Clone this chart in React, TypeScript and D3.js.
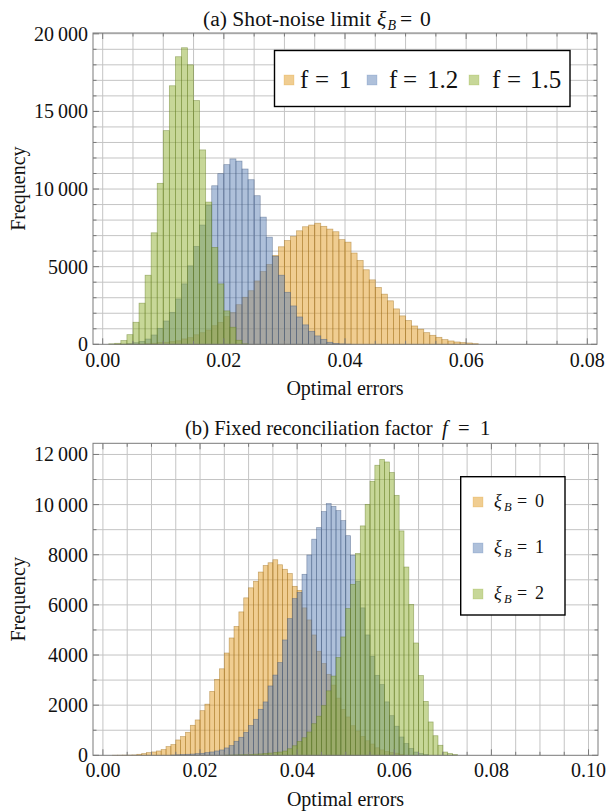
import React from 'react';
import * as d3 from 'd3';

const BIN = 0.001;

// Panel (a): shot-noise limit, xi_B = 0 ; bins of width 0.001
const aF1Start = 0.002;
const aF1Counts = [3, 5, 8, 10, 15, 40, 66, 106, 133, 173, 226, 346, 425, 612, 745, 918, 1197, 1410, 1780, 2040, 2550, 3030, 3450, 4080, 4680, 5140, 5720, 6280, 6680, 6940, 7310, 7570, 7680, 7800, 7600, 7420, 7250, 6740, 6580, 5880, 5400, 4800, 4150, 3660, 3230, 2800, 2280, 1830, 1530, 1180, 970, 750, 580, 450, 300, 215, 150, 110, 85, 40];
const aF12Start = 0.003;
const aF12Counts = [10, 40, 100, 190, 340, 600, 1030, 1500, 2060, 2920, 3890, 5050, 6300, 7680, 8950, 10210, 10990, 11570, 11940, 11800, 11290, 10600, 9570, 8190, 6900, 5660, 4450, 3350, 2470, 1760, 1250, 840, 540, 320, 130, 60, 25, 10];
const aF15Start = 0.001;
const aF15Counts = [30, 65, 240, 620, 1420, 2650, 4450, 7180, 10370, 13760, 16650, 18520, 19100, 18000, 15700, 12520, 9160, 6240, 3890, 2150, 1100, 260, 30];

// Panel (b): fixed reconciliation factor f = 1
const bXi0Start = 0.002;
const bXi0Counts = [3, 5, 8, 10, 15, 40, 66, 106, 133, 173, 226, 346, 425, 612, 745, 918, 1197, 1410, 1780, 2040, 2550, 3030, 3450, 4080, 4680, 5140, 5720, 6280, 6680, 6940, 7310, 7570, 7680, 7800, 7600, 7420, 7250, 6740, 6580, 5880, 5400, 4800, 4150, 3660, 3230, 2800, 2280, 1830, 1530, 1180, 970, 750, 580, 450, 300, 215, 150, 110, 85, 40];
const bXi1Start = 0.014;
const bXi1Counts = [10, 20, 30, 40, 50, 65, 80, 106, 133, 173, 213, 293, 386, 559, 718, 918, 1184, 1436, 1835, 2128, 2766, 3200, 3700, 4600, 5450, 6250, 6500, 7220, 7990, 8620, 9080, 9720, 10040, 9930, 9760, 9360, 8760, 7980, 6940, 5880, 4800, 3950, 3190, 2820, 2130, 1580, 1160, 730, 470, 270, 130, 70, 30];
const bXi2Start = 0.025;
const bXi2Counts = [5, 10, 15, 20, 25, 35, 45, 55, 70, 90, 110, 130, 170, 260, 380, 550, 700, 930, 1260, 1560, 1980, 2570, 3160, 3900, 4720, 5850, 6820, 8050, 9150, 10010, 10930, 11570, 11800, 11700, 11280, 10370, 8950, 7510, 6020, 4480, 3180, 2150, 1330, 780, 400, 130, 70, 30];

const xTicksA = [0, 0.02, 0.04, 0.06, 0.08];
const yTicksA = [0, 5000, 10000, 15000, 20000];
const xTicksB = [0, 0.02, 0.04, 0.06, 0.08, 0.1];
const yTicksB = [0, 2000, 4000, 6000, 8000, 10000, 12000];

const legendAValues = ['1', '1.2', '1.5'];
const legendBValues = ['0', '1', '2'];

const COLORS = ['#E19C24', '#5E81B5', '#8FB032'];
const FONT = '"Liberation Serif", "DejaVu Serif", serif';

type Series = { start: number; counts: number[]; color: string };

function fmtY(v: number) {
  const s = String(v);
  return v >= 10000 ? s.slice(0, -3) + '\u2009' + s.slice(-3) : s;
}

function Panel(props: {
  left: number; right: number; top: number; bottom: number;
  xDomain: [number, number]; yDomain: [number, number];
  series: Series[]; xTicks: number[]; yTicks: number[];
  xGridMax: number; yGridMax: number;
  xLabelY: number; axisLabelY: number;
}) {
  const { left, right, top, bottom, xDomain, yDomain, series, xTicks, yTicks } = props;
  const x = d3.scaleLinear().domain(xDomain).range([left, right]);
  const y = d3.scaleLinear().domain(yDomain).range([bottom, top]);
  const xGrid = d3.range(0, Math.round(props.xGridMax / 0.005) + 1).map((i) => i * 0.005);
  const yGrid = d3.range(1, Math.round(props.yGridMax / 1000) + 1).map((i) => i * 1000);
  const isMajorX = (v: number) => xTicks.some((t) => Math.abs(t - v) < 1e-9);
  const isMajorY = (v: number) => yTicks.some((t) => Math.abs(t - v) < 1e-9);
  const frame = '#7a7a7a';
  return (
    <g>
      {xGrid.map((v, i) => (
        <line key={'gx' + i} x1={x(v)} x2={x(v)} y1={top} y2={bottom} stroke="#c4c4c4" strokeWidth={1} />
      ))}
      {yGrid.map((v, i) => (
        <line key={'gy' + i} x1={left} x2={right} y1={y(v)} y2={y(v)} stroke="#c4c4c4" strokeWidth={1} />
      ))}
      {series.map((s, si) => {
        const edge = d3.color(s.color)!.darker(1).formatHex();
        return (
          <g key={'s' + si}>
            {s.counts.map((c, i) => {
              const x0 = s.start + i * BIN;
              const px0 = x(x0);
              const px1 = x(x0 + BIN);
              return (
                <rect
                  key={i}
                  x={px0}
                  y={y(c)}
                  width={px1 - px0}
                  height={y(0) - y(c)}
                  fill={s.color}
                  fillOpacity={0.5}
                  stroke={edge}
                  strokeOpacity={0.55}
                  strokeWidth={0.7}
                />
              );
            })}
          </g>
        );
      })}
      <rect x={left} y={top} width={right - left} height={bottom - top} fill="none" stroke={frame} strokeWidth={1} />
      {xGrid.map((v, i) => {
        const L = isMajorX(v) ? 6 : 3.5;
        return (
          <g key={'tx' + i}>
            <line x1={x(v)} x2={x(v)} y1={bottom} y2={bottom - L} stroke={frame} strokeWidth={1} />
            <line x1={x(v)} x2={x(v)} y1={top} y2={top + L} stroke={frame} strokeWidth={1} />
          </g>
        );
      })}
      {[0, ...yGrid].map((v, i) => {
        const L = isMajorY(v) ? 6 : 3.5;
        return (
          <g key={'ty' + i}>
            <line x1={left} x2={left + L} y1={y(v)} y2={y(v)} stroke={frame} strokeWidth={1} />
            <line x1={right} x2={right - L} y1={y(v)} y2={y(v)} stroke={frame} strokeWidth={1} />
          </g>
        );
      })}
      {xTicks.map((v, i) => (
        <text key={'lx' + i} x={x(v)} y={props.xLabelY} textAnchor="middle" fontSize={20} fontFamily={FONT} fill="#111">
          {v.toFixed(2)}
        </text>
      ))}
      {yTicks.map((v, i) => (
        <text key={'ly' + i} x={left - 5} y={y(v)} dy="0.35em" textAnchor="end" fontSize={20} fontFamily={FONT} fill="#111">
          {fmtY(v)}
        </text>
      ))}
      <text x={(left + right) / 2} y={props.axisLabelY} textAnchor="middle" fontSize={20} fontFamily={FONT} fill="#111">
        Optimal errors
      </text>
      <text transform={`translate(25,${(top + bottom) / 2}) rotate(-90)`} textAnchor="middle" fontSize={20} fontFamily={FONT} fill="#111">
        Frequency
      </text>
    </g>
  );
}

export default function App() {
  const seriesA: Series[] = [
    { start: aF1Start, counts: aF1Counts, color: COLORS[0] },
    { start: aF12Start, counts: aF12Counts, color: COLORS[1] },
    { start: aF15Start, counts: aF15Counts, color: COLORS[2] },
  ];
  const seriesB: Series[] = [
    { start: bXi0Start, counts: bXi0Counts, color: COLORS[0] },
    { start: bXi1Start, counts: bXi1Counts, color: COLORS[1] },
    { start: bXi2Start, counts: bXi2Counts, color: COLORS[2] },
  ];
  const legAX = [284, 367, 469];
  const legAF = [300, 389, 492];
  const legAEq = [315, 403, 507];
  const legANum = [339, 427, 530];
  const legBY = [502, 548, 594];
  return (
    <svg width={608} height={811} style={{ position: 'absolute', left: 0, top: 0, background: '#fff' }} fontFamily={FONT}>
      <rect x={0} y={0} width={608} height={811} fill="#fff" />
      <text y={26} fontSize={21.6} fontFamily={FONT} fill="#111">
        <tspan x={203}>(a) Shot-noise limit</tspan>
        <tspan x={377} fontStyle="italic">ξ</tspan>
        <tspan x={387.5} dy={4} fontSize={14} fontStyle="italic">B</tspan>
        <tspan x={400} dy={-4}>=</tspan>
        <tspan x={420}>0</tspan>
      </text>
      <Panel
        left={93} right={597} top={33} bottom={344.3}
        xDomain={[-0.0016, 0.0816]} yDomain={[0, 20050]}
        series={seriesA} xTicks={xTicksA} yTicks={yTicksA}
        xGridMax={0.08} yGridMax={20000}
        xLabelY={367} axisLabelY={395}
      />
      <rect x={274.5} y={50.5} width={295.5} height={56} fill="#fff" stroke="#000" strokeWidth={1.4} />
      {legendAValues.map((t, i) => (
        <g key={'la' + i}>
          <rect x={legAX[i]} y={75} width={10} height={10} fill={COLORS[i]} fillOpacity={0.5} stroke={COLORS[i]} strokeOpacity={0.3} strokeWidth={0.7} />
          <text y={88} fontSize={25} fontFamily={FONT} fill="#111">
            <tspan x={legAF[i]}>f</tspan>
            <tspan x={legAEq[i]}>=</tspan>
            <tspan x={legANum[i]}>{t}</tspan>
          </text>
        </g>
      ))}

      <text y={435} fontSize={20.6} fontFamily={FONT} fill="#111">
        <tspan x={185}>(b) Fixed reconciliation factor</tspan>
        <tspan x={442} fontStyle="italic">f</tspan>
        <tspan x={458}>=</tspan>
        <tspan x={480}>1</tspan>
      </text>
      <Panel
        left={93} right={598} top={443.3} bottom={755.3}
        xDomain={[-0.00204, 0.10195]} yDomain={[0, 12445]}
        series={seriesB} xTicks={xTicksB} yTicks={yTicksB}
        xGridMax={0.1} yGridMax={12000}
        xLabelY={777} axisLabelY={806}
      />
      <rect x={460.7} y={476.7} width={104.3} height={138.3} fill="#fff" stroke="#000" strokeWidth={1.4} />
      {legendBValues.map((t, i) => (
        <g key={'lb' + i}>
          <rect x={473} y={legBY[i] - 5} width={10} height={10} fill={COLORS[i]} fillOpacity={0.5} stroke={COLORS[i]} strokeOpacity={0.3} strokeWidth={0.7} />
          <text y={legBY[i] + 5} fontSize={18} fontFamily={FONT} fill="#111">
            <tspan x={494} fontStyle="italic">ξ</tspan>
            <tspan x={504} dy={4} fontSize={12.5} fontStyle="italic">B</tspan>
            <tspan x={517} dy={-4}>=</tspan>
            <tspan x={535}>{t}</tspan>
          </text>
        </g>
      ))}
    </svg>
  );
}
